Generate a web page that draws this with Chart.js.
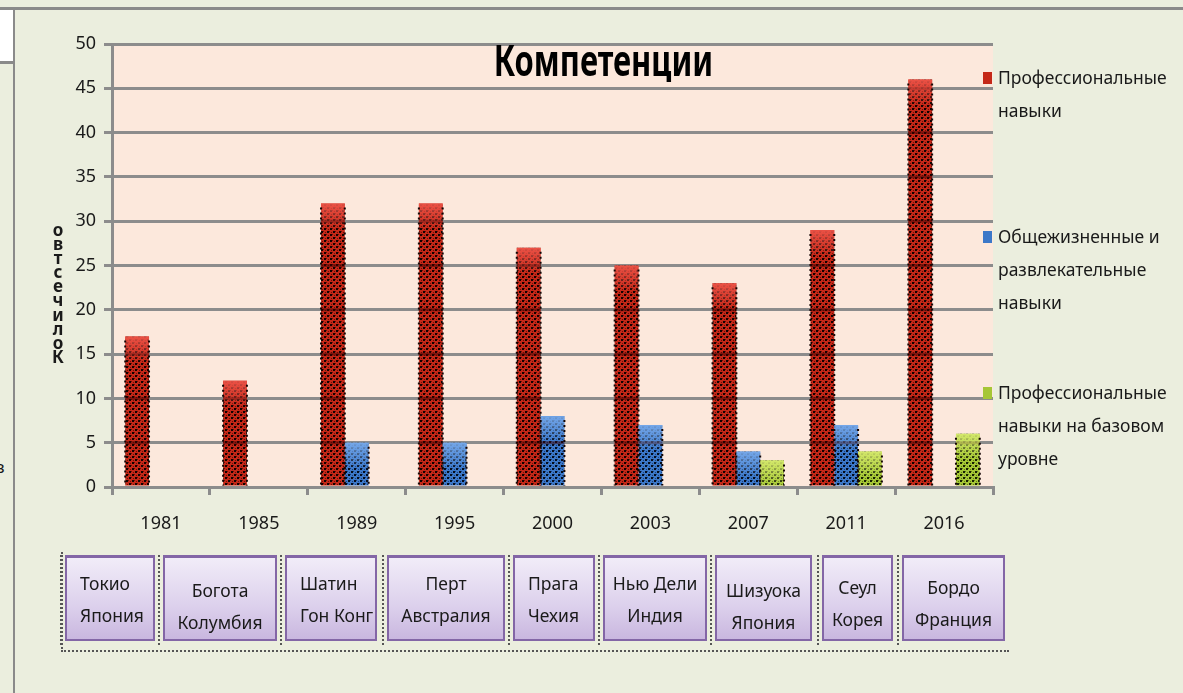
<!DOCTYPE html>
<html lang="ru">
<head>
<meta charset="UTF-8">
<title>Компетенции</title>
<script src="https://cdn.jsdelivr.net/npm/chart.js@4.4.0/dist/chart.umd.min.js"></script>
<style>
  html,body{margin:0;padding:0;}
  body{width:1183px;height:693px;background:#ebeede;position:relative;overflow:hidden;font-family:"Noto Sans",sans-serif;color:#1a1a1a;}
  #topline{position:absolute;left:0;top:7px;width:1183px;height:3px;background:#8a8a8a;}
  #leftline{position:absolute;left:13px;top:10px;width:2px;height:683px;background:#8a8a8a;}
  #whitebox{position:absolute;left:0;top:10px;width:13px;height:51px;background:#fff;}
  #whiteline{position:absolute;left:0;top:61px;width:13px;height:3px;background:#8a8a8a;}
  #cut{position:absolute;left:-5px;top:455px;font-size:17px;}
  #wrap{position:absolute;left:0;top:0;width:1183px;height:693px;}
  #ytitle{position:absolute;left:50px;top:223px;width:16px;font-weight:700;font-size:17px;line-height:14.1px;text-align:center;}
  .leg{position:absolute;left:983px;width:198px;font-size:17.5px;line-height:33px;}
  .leg i{position:absolute;left:0;top:11px;width:9px;height:12px;}
  .leg span{display:block;margin-left:15px;}
  #cityrow{position:absolute;left:61px;top:552px;width:946px;height:98px;border-bottom:2px dotted #555;border-left:2px dotted #555;}
  .city{position:absolute;top:555px;height:86px;box-sizing:border-box;border:2px solid #8366a6;border-top-width:3px;
        background:linear-gradient(#f1ecf8,#dcd0ec 60%,#c9b7df);font-size:17.5px;line-height:32px;white-space:nowrap;}
  .sep{position:absolute;top:555px;height:90px;border-left:2px dotted #555;}
</style>
</head>
<body>
<div id="topline"></div>
<div id="leftline"></div>
<div id="whitebox"></div>
<div id="whiteline"></div>
<div id="cut">в</div>
<div id="wrap"><canvas id="chart" width="1183" height="693"></canvas></div>
<div id="ytitle"></div>
<div id="legend"></div>
<div id="cityrow"></div>
<div id="cities"></div>

<script>
const years = ['1981','1985','1989','1995','2000','2003','2007','2011','2016'];
const cities = [
  ['Токио','Япония'], ['Богота','Колумбия'], ['Шатин','Гон Конг'], ['Перт','Австралия'],
  ['Прага','Чехия'], ['Нью Дели','Индия'], ['Шизуока','Япония'], ['Сеул','Корея'], ['Бордо','Франция']
];
const seriesNames = [
  'Профессиональные навыки',
  'Общежизненные и развлекательные навыки',
  'Профессиональные навыки на базовом уровне'
];
const professional = [17, 12, 32, 32, 27, 25, 23, 29, 46];
const general      = [null, null, 5, 5, 8, 7, 4, 7, null];
const basic        = [null, null, null, null, null, null, 3, 4, 6];
const yTicks = [0, 5, 10, 15, 20, 25, 30, 35, 40, 45, 50];
const chartTitle = 'Компетенции';
const yTitle = 'Количество';

// layout for the boxes below the axis: left, width, align, top padding
const cityBoxes = [
  [65, 90, 'left', 9], [163, 114, 'center', 16], [285, 92, 'left', 9], [387, 118, 'center', 9],
  [513, 82, 'left', 9], [603, 104, 'center', 9], [715, 97, 'center', 16], [822, 71, 'center', 13],
  [902, 103, 'center', 13]
];
const legendTops = [61, 220, 376];

const colors = [
  {base:'#c42818', mid:'#6e1008', dark:'#120201', light:'rgba(238,84,72,'},
  {base:'#3c78c8', mid:'#1a4282', dark:'#050d1c', light:'rgba(120,170,235,'},
  {base:'#a6c636', mid:'#607e14', dark:'#182003', light:'rgba(214,234,110,'}
];

function makePattern(c){
  const cv = document.createElement('canvas');
  cv.width = 6; cv.height = 6;
  const x = cv.getContext('2d');
  x.fillStyle = c.base; x.fillRect(0,0,6,6);
  x.fillStyle = c.mid;
  x.fillRect(2,0,1,1); x.fillRect(5,3,1,1); x.fillRect(1,4,1,1); x.fillRect(4,1,1,1);
  x.fillStyle = c.dark;
  x.fillRect(0,0,2,2); x.fillRect(3,3,2,2);
  return x.createPattern(cv, 'repeat');
}

const datasets = [professional, general, basic].map(function(d, i){
  return {
    label: seriesNames[i],
    data: d,
    backgroundColor: makePattern(colors[i]),
    borderWidth: 0,
    categoryPercentage: 0.73,
    barPercentage: 1.0
  };
});

const plotBg = {
  id:'plotBg',
  beforeDraw: function(chart){
    const a = chart.chartArea, ctx = chart.ctx;
    ctx.save();
    ctx.fillStyle = '#fce8dc';
    ctx.fillRect(a.left, a.top, a.right - a.left, a.bottom - a.top);
    ctx.restore();
  }
};

const barDeco = {
  id:'barDeco',
  afterDatasetsDraw: function(chart){
    const ctx = chart.ctx, ys = chart.scales.y;
    chart.data.datasets.forEach(function(ds, i){
      const meta = chart.getDatasetMeta(i);
      meta.data.forEach(function(el, j){
        if (ds.data[j] == null) return;
        const p = el.getProps(['x','y','base','width'], true);
        const l = p.x - p.width/2, r = p.x + p.width/2;
        ctx.save();
        // gridlines show through as darker bands
        ctx.fillStyle = 'rgba(60,0,0,0.5)';
        yTicks.forEach(function(v){
          const py = ys.getPixelForValue(v);
          if (py > p.y + 2 && py < p.base - 2) ctx.fillRect(l, py - 1.5, p.width, 3);
        });
        // lighter glossy cap
        const g = ctx.createLinearGradient(0, p.y, 0, p.y + 26);
        g.addColorStop(0, colors[i].light + '0.95)');
        g.addColorStop(1, colors[i].light + '0)');
        ctx.fillStyle = g;
        ctx.fillRect(l, p.y, p.width, Math.min(26, p.base - p.y));
        // dotted edges
        ctx.strokeStyle = '#140504';
        ctx.lineWidth = 2;
        ctx.setLineDash([2, 3]);
        ctx.beginPath();
        ctx.moveTo(l, p.y + 4); ctx.lineTo(l, p.base);
        ctx.moveTo(r, p.y + 4); ctx.lineTo(r, p.base);
        ctx.stroke();
        ctx.restore();
      });
    });
  }
};

const titleInside = {
  id:'titleInside',
  afterDraw: function(chart){
    const a = chart.chartArea, ctx = chart.ctx;
    ctx.save();
    ctx.font = '700 43px "Noto Sans"';
    ctx.fillStyle = '#000';
    ctx.textAlign = 'center';
    ctx.textBaseline = 'middle';
    ctx.translate((a.left + a.right)/2 + 51, a.top + 20);
    ctx.scale(0.72, 1);
    ctx.fillText(chartTitle, 0, 0);
    ctx.restore();
  }
};

const ctx = document.querySelector('#chart').getContext('2d');
const chart = new Chart(ctx, {
  type:'bar',
  data:{ labels: years, datasets: datasets },
  options:{
    responsive:false,
    animation:false,
    layout:{ padding:{ top:44, right:190, left:0, bottom:0 } },
    plugins:{ legend:{display:false}, tooltip:{enabled:false}, title:{display:false} },
    scales:{
      x:{
        grid:{ offset:true, drawOnChartArea:false, color:'#8c8c8c', lineWidth:3, tickLength:8 },
        border:{ color:'#8c8c8c', width:3 },
        ticks:{ color:'#1a1a1a', font:{ family:'"Noto Sans"', size:18 }, padding:18 },
        afterFit: function(s){ s.height = 206; }
      },
      y:{
        min:0, max:50,
        afterBuildTicks: function(s){ s.ticks = yTicks.map(function(v){ return {value:v}; }); },
        grid:{ color:'#8c8c8c', lineWidth:3, tickLength:8 },
        border:{ color:'#8c8c8c', width:3 },
        ticks:{ color:'#1a1a1a', font:{ family:'"Noto Sans"', size:18 }, padding:8 },
        afterFit: function(s){ s.width = 112; }
      }
    }
  },
  plugins:[plotBg, barDeco, titleInside]
});

// stacked y-axis title, read bottom-to-top
document.querySelector('#ytitle').innerHTML = yTitle.split('').reverse().map(function(c){ return '<div>' + c + '</div>'; }).join('');

// legend from datasets
document.querySelector('#legend').innerHTML = chart.data.datasets.map(function(ds, i){
  return '<div class="leg" style="top:' + legendTops[i] + 'px"><i style="background:' + colors[i].base +
         '"></i><span>' + ds.label + '</span></div>';
}).join('');

// city boxes under the years
document.querySelector('#cities').innerHTML = cities.map(function(c, i){
  const b = cityBoxes[i];
  const pad = b[2] === 'left' ? 'padding-left:13px;' : '';
  return '<div class="sep" style="left:' + (b[0] - 5) + 'px"></div>' +
         '<div class="city" style="left:' + b[0] + 'px;width:' + b[1] + 'px;text-align:' + b[2] + ';' + pad +
         'padding-top:' + b[3] + 'px">' + c[0] + '<br>' + c[1] + '</div>';
}).join('');
</script>
</body>
</html>
